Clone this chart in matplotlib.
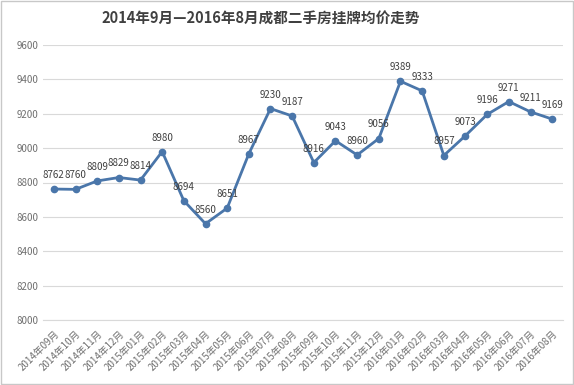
import matplotlib.pyplot as plt
from matplotlib.patches import Rectangle

plt.rcParams['font.family'] = ['Noto Sans CJK SC', 'DejaVu Sans']

months = ['2014年09月', '2014年10月', '2014年11月', '2014年12月',
          '2015年01月', '2015年02月', '2015年03月', '2015年04月',
          '2015年05月', '2015年06月', '2015年07月', '2015年08月',
          '2015年09月', '2015年10月', '2015年11月', '2015年12月',
          '2016年01月', '2016年02月', '2016年03月', '2016年04月',
          '2016年05月', '2016年06月', '2016年07月', '2016年08月']
prices = [8762, 8760, 8809, 8829, 8814, 8980, 8694, 8560, 8651, 8967, 9230, 9187,
          8916, 9043, 8960, 9056, 9389, 9333, 8957, 9073, 9196, 9271, 9211, 9169]

fig = plt.figure(figsize=(5.74, 3.85), dpi=100)
ax = fig.add_axes([43/574, 1-320/385, 520/574, 275/385])
fig.patches.append(Rectangle((0.002, 0.002), 0.996, 0.996, transform=fig.transFigure,
                             fill=False, edgecolor='#c8c8c8', linewidth=1))

x = list(range(len(prices)))
color = '#4a76aa'
ax.plot(x, prices, color=color, linewidth=2, marker='o', markersize=4.5)
for xi, v in zip(x, prices):
    ax.annotate(str(v), (xi, v), xytext=(0, 6.5), textcoords='offset points',
                ha='center', va='bottom', fontsize=7, color='#404040')

ax.set_xlim(-0.5, len(prices) - 0.5)
ax.set_ylim(8000, 9600)
ax.set_yticks(range(8000, 9601, 200))
ax.grid(axis='y', color='#d9d9d9', linewidth=0.8)
ax.set_axisbelow(True)
for s in ax.spines.values():
    s.set_visible(False)
ax.spines['bottom'].set_visible(True)
ax.spines['bottom'].set_color('#d9d9d9')
ax.tick_params(length=0, labelsize=7, colors='#6f6f6f', pad=3)
ax.set_xticks(x)
ax.set_xticklabels(months, rotation=45, ha='right', rotation_mode='anchor')
ax.tick_params(axis='x', pad=6)

fig.text(0.455, 0.953, '2014年9月—2016年8月成都二手房挂牌均价走势', ha='center', va='center',
         fontsize=10.5, fontweight='bold', color='#404040')

fig.savefig('out.png', dpi=100)
